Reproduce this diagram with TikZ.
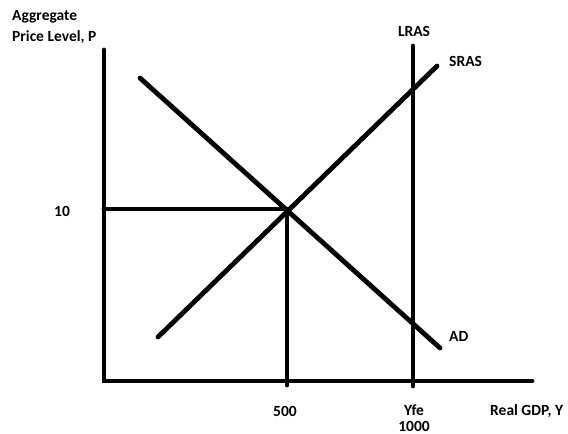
\documentclass[tikz,border=0pt]{standalone}
\usepackage{fontspec}
\setmainfont{Carlito}
\begin{document}
\begin{tikzpicture}[x=1pt,y=-1pt,
  curve/.style={line width=4.8pt,line cap=round},
  lbl/.style={font=\bfseries\fontsize{15.5}{17}\selectfont,inner sep=0pt}]
\useasboundingbox (0,0) rectangle (568,434);
\coordinate (O) at (104,381);
\coordinate (Ytop) at (104,50);
\coordinate (Xend) at (532,381);
\coordinate (E) at (287,209);
\coordinate (Pax) at (104,209);
\coordinate (Qax) at (287,385);
\coordinate (Ltop) at (413,46);
\coordinate (Lbot) at (413,386);
\coordinate (Sa) at (158,337);
\coordinate (Sb) at (437,66);
\coordinate (Da) at (140,78);
\coordinate (Db) at (440,348);
\draw[curve] (Ytop) -- (O) -- (Xend);
\draw[curve] (Pax) -- (E) -- (Qax);
\draw[curve] (Ltop) -- (Lbot);
\draw[curve] (Sa) -- (Sb);
\draw[curve] (Da) -- (Db);
\node[lbl,anchor=west] (agg) at (12,17) {Aggregate};
\node[lbl,anchor=west] (plv) at (12,37) {Price Level, P};
\node[lbl] (lras) at (414,31) {LRAS};
\node[lbl,anchor=west] (sras) at (449,61) {SRAS};
\node[lbl,anchor=west] (ad) at (449,336) {AD};
\node[lbl] (p10) at (62,211) {10};
\node[lbl] (q500) at (285,411) {500};
\node[lbl] (yfe) at (414,410) {Yfe};
\node[lbl] (q1000) at (414,426) {1000};
\node[lbl,anchor=west] (rgdp) at (490,411) {Real GDP, Y};
\end{tikzpicture}
\end{document}
